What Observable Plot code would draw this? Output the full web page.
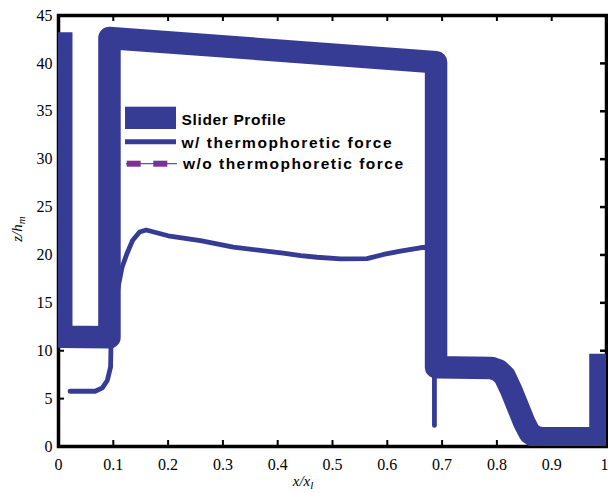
<!DOCTYPE html>
<html><head><meta charset="utf-8">
<script src="https://cdn.jsdelivr.net/npm/d3@7"></script>
<script src="https://cdn.jsdelivr.net/npm/@observablehq/plot@0.6"></script>
<style>body{margin:0;background:#fff}#chart{width:608px;height:493px}</style>
</head><body><div id="chart"></div>
<script>
// Slider profile (x/xl, z/hm)
const sliderX = [0.005, 0.005, 0.093, 0.093, 0.689, 0.689, 0.790, 0.803, 0.814, 0.826, 0.838, 0.850, 0.860, 0.872, 0.885, 0.989, 0.989];
const sliderZ = [43.26, 11.45, 11.40, 42.66, 40.12, 8.28, 8.20, 7.95, 7.35, 5.90, 4.20, 2.50, 1.40, 0.95, 0.85, 0.85, 9.68];
// w/ thermophoretic force
const thermoX = [0.021, 0.067, 0.080, 0.089, 0.095, 0.096, 0.103, 0.110, 0.116, 0.125, 0.135, 0.148, 0.160, 0.200, 0.259, 0.319, 0.410, 0.442, 0.472, 0.515, 0.563, 0.593, 0.624, 0.660, 0.686, 0.686];
const thermoZ = [5.77, 5.77, 6.13, 6.89, 8.28, 11.0, 15.0, 17.0, 18.72, 20.15, 21.5, 22.4, 22.6, 22.0, 21.5, 20.81, 20.18, 19.94, 19.76, 19.6, 19.62, 20.05, 20.39, 20.75, 20.9, 2.2];
const xTicks = [0, 0.1, 0.2, 0.3, 0.4, 0.5, 0.6, 0.7, 0.8, 0.9, 1];
const xTickLabels = ["0", "0.1", "0.2", "0.3", "0.4", "0.5", "0.6", "0.7", "0.8", "0.9", "1"];
const yTicks = [0, 5, 10, 15, 20, 25, 30, 35, 40, 45];
const yTickLabels = ["0", "5", "10", "15", "20", "25", "30", "35", "40", "45"];
const legendLabels = ["Slider Profile", "w/ thermophoretic force", "w/o thermophoretic force"];

const slider = sliderX.map((x, i) => ({x, z: sliderZ[i]}));
const thermo = thermoX.map((x, i) => ({x, z: thermoZ[i]}));

const W = 608, H = 493, mL = 58, mR = 2, mT = 15, mB = 47;
const innerH = H - mT - mB, innerW = W - mL - mR, tl = 6;
const navy = "#363c94";
const serif = "'Liberation Serif', 'Times New Roman', serif";

const plot = Plot.plot({
  width: W, height: H,
  marginLeft: mL, marginRight: mR, marginTop: mT, marginBottom: mB,
  x: {domain: [0, 1]},
  y: {domain: [0, 45]},
  style: {fontFamily: serif, fontSize: "15px", color: "#000", background: "#fff", overflow: "visible"},
  marks: [
    Plot.frame({stroke: "#000", strokeWidth: 3.5}),
    Plot.tickX(xTicks.slice(1, -1), {x: d => d, insetTop: innerH - tl, stroke: "#000", strokeWidth: 2}),
    Plot.tickX(xTicks.slice(1, -1), {x: d => d, insetBottom: innerH - tl, stroke: "#000", strokeWidth: 2}),
    Plot.tickY(yTicks.slice(1, -1), {y: d => d, insetLeft: innerW - tl, stroke: "#000", strokeWidth: 2.5}),
    Plot.tickY(yTicks.slice(1, -1), {y: d => d, insetRight: innerW - tl, stroke: "#000", strokeWidth: 2}),
    Plot.axisX({ticks: xTicks, tickFormat: d => xTickLabels[xTicks.indexOf(d)], tickSize: 0, tickPadding: 12, label: null, fontSize: 16, fontFamily: serif}),
    Plot.axisY({ticks: yTicks, tickFormat: d => yTickLabels[yTicks.indexOf(d)], tickSize: 0, tickPadding: 6, label: null, fontSize: 16, fontFamily: serif}),
    Plot.line(slider, {x: "x", y: "z", stroke: navy, strokeWidth: 22.5, strokeLinejoin: "round", strokeLinecap: "butt", clip: true}),
    Plot.line(thermo, {x: "x", y: "z", stroke: navy, strokeWidth: 4.8, strokeLinejoin: "round", strokeLinecap: "round", clip: true})
  ]
});

const svg = d3.select(plot);
// nudge last x tick label inside the window
const xl = svg.selectAll("[aria-label='x-axis tick label'] text");
if (xl.size()) d3.select(xl.nodes()[xl.size() - 1]).attr("dx", -2);

// axis titles
const xt = svg.append("text").attr("x", 303).attr("y", 486).attr("text-anchor", "middle")
  .attr("font-family", serif).attr("font-style", "italic").attr("font-size", 15).attr("fill", "#000");
xt.append("tspan").text("x/x");
xt.append("tspan").attr("font-size", 11).attr("dy", 3).text("l");
const yt = svg.append("text").attr("transform", "translate(22,229) rotate(-90)").attr("text-anchor", "middle")
  .attr("font-family", serif).attr("font-style", "italic").attr("font-size", 15).attr("fill", "#000");
yt.append("tspan").text("z/h");
yt.append("tspan").attr("font-size", 11).attr("dy", 3).text("m");

// legend
const lg = svg.append("g").attr("font-family", "'Liberation Sans', Arial, sans-serif").attr("font-weight", "bold")
  .attr("font-size", 15.5).attr("fill", "#000").attr("text-anchor", "start");
lg.append("rect").attr("x", 125).attr("y", 106.7).attr("width", 51).attr("height", 22.3).attr("fill", navy);
lg.append("line").attr("x1", 125).attr("x2", 176).attr("y1", 141.8).attr("y2", 141.8).attr("stroke", navy).attr("stroke-width", 5);
lg.append("line").attr("x1", 126).attr("x2", 177).attr("y1", 163.7).attr("y2", 163.7).attr("stroke", "#1f6fc8").attr("stroke-width", 1.3);
lg.append("rect").attr("x", 126.7).attr("y", 160.7).attr("width", 14).attr("height", 6).attr("fill", "#7b3294");
lg.append("rect").attr("x", 153.3).attr("y", 160.7).attr("width", 14).attr("height", 6).attr("fill", "#7b3294");
const lens = [104, 210, 220];
const xs = [181.5, 181.5, 183];
const ys = [125, 147.5, 168.5];
legendLabels.forEach((t, i) => {
  lg.append("text").attr("x", xs[i]).attr("y", ys[i]).attr("text-anchor", "start")
    .attr("textLength", lens[i]).attr("lengthAdjust", "spacing").text(t);
});

document.getElementById("chart").appendChild(plot);
</script>
</body></html>
